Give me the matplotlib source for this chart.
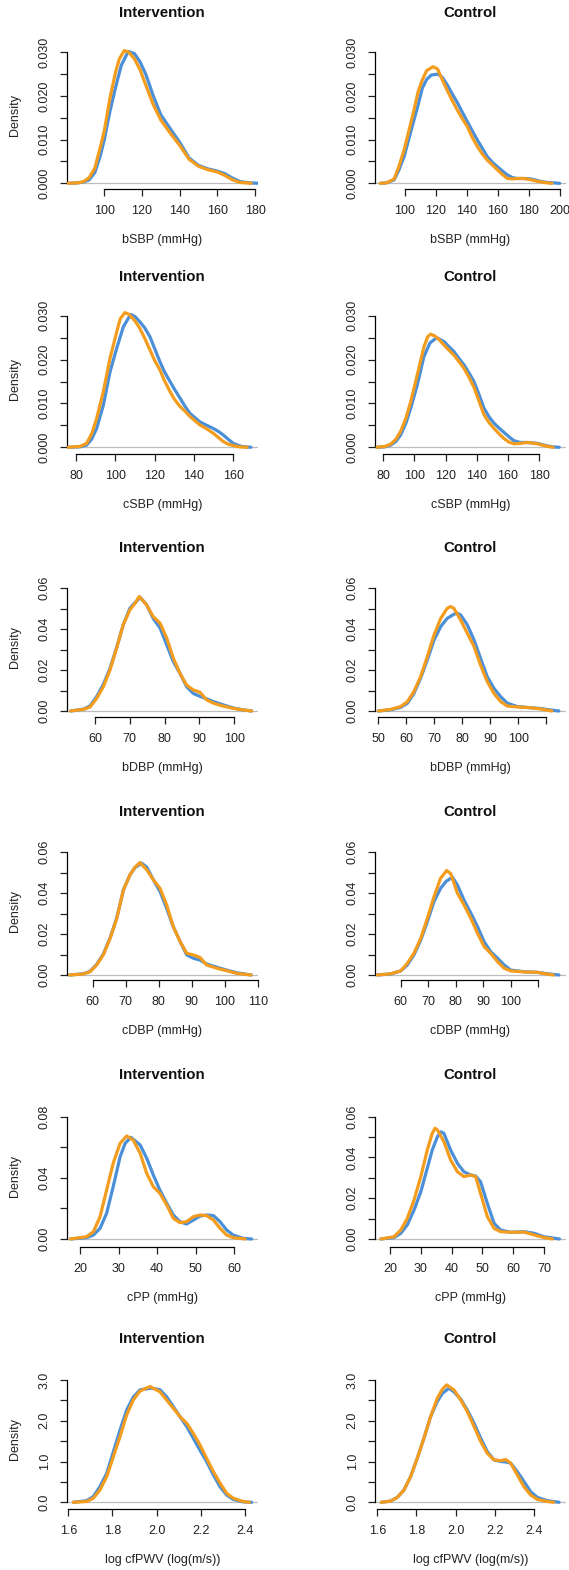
import matplotlib
matplotlib.use("Agg")
import matplotlib.pyplot as plt

plt.rcParams['font.family'] = ['Liberation Sans', 'DejaVu Sans']

BLUE, ORANGE = '#4a8fd8', '#f39c1e'

# ---- density curves (x, density) ----
bsbp_i_b_x = [81, 86, 89, 92, 95, 98, 100, 103, 106, 109, 112.7, 116, 119, 122, 126, 130, 135, 140,
              145, 150, 155, 160, 164, 168, 172, 177, 182]
bsbp_i_b_y = [0, 0.0001, 0.0003, 0.0008, 0.0025, 0.0065, 0.010, 0.0165, 0.022, 0.027, 0.0302, 0.0297,
              0.0278, 0.025, 0.020, 0.0157, 0.0125, 0.0094, 0.0058, 0.0041, 0.0033, 0.0028, 0.0022,
              0.0012, 0.0004, 0.0001, 0]
bsbp_i_o_x = [80, 86, 89, 92, 95, 98, 100, 103, 106, 108, 110.6, 113, 116, 119, 122, 126, 130, 135,
              140, 145, 150, 155, 160, 164, 168, 172, 178]
bsbp_i_o_y = [0, 0.0001, 0.0004, 0.0013, 0.0035, 0.0085, 0.012, 0.0195, 0.0255, 0.0285, 0.0304, 0.030,
              0.0285, 0.026, 0.0225, 0.018, 0.0145, 0.0115, 0.0087, 0.0055, 0.0039, 0.0031, 0.0026,
              0.0018, 0.0008, 0.0002, 0]
bsbp_c_b_x = [84, 88, 93, 96, 99.4, 102.5, 105.8, 108.5, 111.2, 114, 117, 121.3, 124, 127.4, 130.5,
              133.8, 137, 140.3, 143.5, 146.8, 150, 153.2, 156.5, 159.7, 163, 166.2, 169.5, 172.6,
              177, 181.3, 185, 188, 192, 196, 200]
bsbp_c_b_y = [0, 0.0001, 0.0008, 0.003, 0.0061, 0.0102, 0.0145, 0.018, 0.0218, 0.0238, 0.0248, 0.025,
              0.0243, 0.0225, 0.0205, 0.0185, 0.0163, 0.0141, 0.012, 0.0099, 0.008, 0.0061, 0.0048,
              0.0038, 0.0028, 0.0019, 0.0013, 0.0011, 0.0011, 0.0010, 0.0007, 0.0004, 0.0002,
              0.0001, 0]
bsbp_c_o_x = [84, 88, 93, 96, 99.4, 102.5, 105.8, 108.5, 111.2, 114, 118.1, 121, 124, 127.4, 130.5,
              133.8, 137, 140.3, 143.5, 146.8, 150, 153.2, 156.5, 159.7, 163, 166.2, 169.5, 172.6,
              177, 181.3, 185, 188, 192, 195]
bsbp_c_o_y = [0, 0.0001, 0.001, 0.0038, 0.0076, 0.012, 0.0168, 0.021, 0.0237, 0.0258, 0.0267, 0.0262,
              0.0238, 0.0212, 0.019, 0.0168, 0.0148, 0.013, 0.0105, 0.0084, 0.0067, 0.0053, 0.0042,
              0.0031, 0.002, 0.0011, 0.001, 0.0011, 0.0011, 0.0008, 0.0005, 0.0003, 0.0001, 0]

csbp_i_b_x = [76, 82, 85.4, 88, 90.5, 93.9, 97.3, 100.7, 104.1, 107.8, 110, 112.5, 115, 117.6, 120,
              122.7, 125, 127.8, 130, 132.9, 135.5, 138, 143, 146.5, 149.8, 152.5, 154.9, 157.5,
              160, 164, 169]
csbp_i_b_y = [0, 0.0001, 0.0005, 0.0019, 0.0043, 0.0096, 0.0172, 0.0226, 0.0275, 0.0303, 0.0298,
              0.0286, 0.0272, 0.0252, 0.0225, 0.0195, 0.0172, 0.015, 0.0133, 0.0112, 0.0093, 0.0077,
              0.0058, 0.005, 0.0043, 0.0036, 0.0028, 0.0018, 0.0009, 0.0002, 0]
csbp_i_o_x = [76, 82, 85.4, 88, 90.5, 93.9, 97.3, 100.7, 102.5, 104.9, 107, 110, 112.5, 115, 117.6,
              120, 122.7, 125, 127.8, 130, 132.9, 135.5, 138, 143, 146.5, 149.8, 152.5, 154.9,
              157.5, 160, 163, 167]
csbp_i_o_y = [0, 0.0002, 0.0009, 0.0031, 0.0066, 0.0127, 0.0203, 0.0263, 0.0293, 0.0307, 0.0303,
              0.0288, 0.0271, 0.0248, 0.0222, 0.0198, 0.0176, 0.0152, 0.0127, 0.011, 0.0093, 0.0082,
              0.007, 0.0051, 0.0042, 0.0032, 0.0022, 0.0013, 0.0007, 0.0004, 0.0001, 0]
csbp_c_b_x = [76, 81, 84.7, 88, 91.1, 94.5, 97.6, 101.8, 106.1, 110, 114.3, 119, 122, 125.4, 128.5,
              131.8, 135, 138.2, 141.5, 144.7, 148, 151.1, 154.3, 157.5, 160.7, 163.9, 168, 172.5,
              178.9, 185.4, 189, 193]
csbp_c_b_y = [0, 0.0001, 0.0005, 0.0013, 0.0028, 0.0055, 0.0089, 0.0142, 0.0207, 0.0238, 0.025,
              0.0241, 0.023, 0.0218, 0.0203, 0.0188, 0.017, 0.015, 0.012, 0.0089, 0.0069, 0.0055,
              0.0044, 0.0034, 0.0024, 0.0015, 0.0011, 0.0011, 0.0009, 0.0003, 0.0001, 0]
csbp_c_o_x = [76, 81, 84.7, 88, 91.1, 94.5, 97.6, 101.8, 106.1, 108.5, 110.4, 113, 116, 119, 122,
              125.4, 128.5, 131.8, 135, 138.2, 141.5, 144.7, 148, 151.1, 154.3, 157.5, 160.7, 163.9,
              168, 172.5, 178.9, 185.4, 189]
csbp_c_o_y = [0, 0.0002, 0.0007, 0.0018, 0.0036, 0.0066, 0.0104, 0.0165, 0.0229, 0.0252, 0.0258,
              0.0254, 0.0245, 0.0233, 0.0222, 0.021, 0.0196, 0.018, 0.016, 0.0137, 0.0105, 0.0074,
              0.0056, 0.0043, 0.0031, 0.002, 0.0012, 0.0008, 0.0009, 0.0011, 0.0008, 0.0002, 0]

bdbp_i_b_x = [53, 56.7, 58.6, 60.5, 62.4, 64.3, 66.2, 68.1, 70, 71.5, 73, 74.8, 76.7, 78.7, 80.6,
              82.5, 84.4, 86.3, 88.2, 90.1, 92.1, 94, 96.8, 99.7, 102.6, 105]
bdbp_i_b_y = [0, 0.0009, 0.0025, 0.0071, 0.013, 0.0208, 0.031, 0.0421, 0.0502, 0.053, 0.0555, 0.052,
              0.0453, 0.0405, 0.0323, 0.0241, 0.0184, 0.0119, 0.0086, 0.0072, 0.0059, 0.0046, 0.003,
              0.0015, 0.0005, 0]
bdbp_i_o_x = [53, 56.7, 58.6, 60.5, 62.4, 64.3, 66.2, 68.1, 70, 71.5, 72.7, 74.8, 76.7, 78.7, 80.6,
              82.5, 84.4, 86.3, 88.2, 90.1, 92.1, 94, 96.8, 99.7, 102.6, 105]
bdbp_i_o_y = [0, 0.0008, 0.002, 0.0062, 0.0119, 0.02, 0.0307, 0.0421, 0.0494, 0.0527, 0.056, 0.0519,
              0.0462, 0.0429, 0.0356, 0.0258, 0.0184, 0.0127, 0.0103, 0.0092, 0.0054, 0.0038, 0.0024,
              0.0013, 0.0005, 0]
bdbp_c_b_x = [50, 54.4, 58, 60.4, 62.7, 65.1, 67.5, 69.9, 72.3, 74.6, 77, 78.2, 79.4, 81.8, 84.2,
              86.5, 88.9, 91.3, 93.7, 96.1, 99.6, 104.4, 108, 111.5, 114.5]
bdbp_c_b_y = [0, 0.0006, 0.0018, 0.0038, 0.0086, 0.016, 0.025, 0.0347, 0.0413, 0.0453, 0.0473,
              0.0478, 0.047, 0.0421, 0.0347, 0.0258, 0.0168, 0.0111, 0.007, 0.0038, 0.0022, 0.0016,
              0.0012, 0.0005, 0]
bdbp_c_o_x = [50, 54.4, 58, 60.4, 62.7, 65.1, 67.5, 69.9, 72.3, 74.6, 75.8, 77, 79.4, 81.8, 84.2,
              86.5, 88.9, 91.3, 93.7, 96.1, 99.6, 104.4, 108, 112]
bdbp_c_o_y = [0, 0.0008, 0.0022, 0.0046, 0.0095, 0.0168, 0.0266, 0.0372, 0.0453, 0.0502, 0.0511,
              0.0502, 0.0445, 0.038, 0.0315, 0.0225, 0.0144, 0.0086, 0.0046, 0.0024, 0.002, 0.0016,
              0.001, 0]

cdbp_i_b_x = [53, 57.2, 59.2, 61.2, 63.2, 65.3, 67.3, 69.3, 71.3, 72.8, 74.8, 76.4, 78.4, 80.4, 82.4,
              84.4, 86.5, 88.5, 90.5, 92.5, 94.5, 97.6, 100.6, 103.6, 108]
cdbp_i_b_y = [0, 0.0006, 0.0018, 0.0052, 0.0102, 0.0183, 0.028, 0.0416, 0.049, 0.0525, 0.0547,
              0.0527, 0.0465, 0.0408, 0.0326, 0.0237, 0.0163, 0.0098, 0.0082, 0.0073, 0.0054, 0.0038,
              0.0024, 0.0011, 0]
cdbp_i_o_x = [53, 57.2, 59.2, 61.2, 63.2, 65.3, 67.3, 69.3, 71.3, 72.8, 74.3, 76.4, 78.4, 80.4, 82.4,
              84.4, 86.5, 88.5, 90.5, 92.5, 94.5, 97.6, 100.6, 103.6, 108]
cdbp_i_o_y = [0, 0.0005, 0.0016, 0.0049, 0.0098, 0.018, 0.0277, 0.0416, 0.049, 0.0527, 0.055, 0.0514,
              0.0465, 0.0424, 0.0343, 0.0237, 0.0163, 0.0106, 0.0098, 0.0086, 0.0049, 0.0033, 0.0021,
              0.0008, 0]
cdbp_c_b_x = [51.5, 56.4, 60, 62.4, 64.8, 67.3, 69.7, 72.1, 74.5, 76.5, 78.8, 80.6, 83, 85.5, 87.9,
              90.3, 92.7, 95.2, 97.6, 100, 104.8, 109.7, 113.3, 117.5]
cdbp_c_b_y = [0, 0.0005, 0.002, 0.0049, 0.0098, 0.0171, 0.0261, 0.0359, 0.0424, 0.0458, 0.0478,
              0.044, 0.0367, 0.0302, 0.0237, 0.0163, 0.0114, 0.0082, 0.0049, 0.0024, 0.0016, 0.0013,
              0.0006, 0]
cdbp_c_o_x = [51.5, 56.4, 60, 62.4, 64.8, 67.3, 69.7, 72.1, 74.5, 76.7, 78.2, 80.6, 83, 85.5, 87.9,
              90.3, 92.7, 95.2, 97.6, 100, 104.8, 109.7, 113.3, 115.5]
cdbp_c_o_y = [0, 0.0006, 0.002, 0.0057, 0.0106, 0.018, 0.0277, 0.0383, 0.0473, 0.0511, 0.0495, 0.04,
              0.0343, 0.0277, 0.0204, 0.0139, 0.0106, 0.0065, 0.0033, 0.002, 0.0015, 0.0013, 0.0004, 0]

cpp_i_b_x = [17.5, 21.7, 23.5, 25.2, 26.9, 28.6, 30.4, 31.7, 33.2, 35.6, 37.3, 39, 40.7, 42.5, 44.2,
             45.9, 47.6, 49.4, 51.1, 52.8, 54.6, 56.3, 58, 59.7, 62.3, 64.5]
cpp_i_b_y = [0, 0.0009, 0.0026, 0.007, 0.0168, 0.0342, 0.0538, 0.0626, 0.0665, 0.0615, 0.0528,
             0.0419, 0.032, 0.0233, 0.0157, 0.0113, 0.0098, 0.0124, 0.015, 0.0157, 0.0153, 0.0113,
             0.0059, 0.0026, 0.0004, 0]
cpp_i_o_x = [17.5, 21.7, 23.5, 25.2, 26.9, 28.6, 30.4, 32.1, 33.8, 35.6, 37.3, 39, 40.7, 42.5, 44.2,
             45.9, 47.6, 49.4, 51.1, 52.8, 54.6, 56.3, 58, 59.7, 62.8]
cpp_i_o_y = [0, 0.0015, 0.0048, 0.0146, 0.032, 0.0495, 0.0626, 0.0674, 0.0647, 0.056, 0.0429,
             0.0342, 0.0299, 0.0222, 0.0135, 0.0107, 0.0113, 0.0146, 0.0157, 0.0153, 0.0124, 0.007,
             0.0026, 0.0009, 0]
cpp_c_b_x = [17, 21.3, 23.5, 25.6, 27.8, 30, 32.1, 33.7, 35.4, 36.5, 37.5, 39.7, 41.9, 44, 46.2,
             47.8, 49.4, 51.6, 53.8, 55.9, 59.2, 63.5, 66.8, 70, 75]
cpp_c_b_y = [0, 0.0007, 0.0028, 0.0069, 0.0142, 0.0232, 0.0347, 0.0436, 0.0502, 0.0526, 0.0518,
             0.0436, 0.0371, 0.033, 0.0314, 0.0309, 0.0281, 0.0175, 0.0077, 0.0044, 0.0033, 0.0036,
             0.0028, 0.0011, 0]
cpp_c_o_x = [17, 21.3, 23.5, 25.6, 27.8, 30, 32.1, 33.7, 34.6, 35.4, 37.5, 39.7, 41.9, 44, 46.2,
             47.8, 49.4, 51.6, 53.8, 55.9, 59.2, 63.5, 66.8, 70, 72.7]
cpp_c_o_y = [0, 0.0011, 0.0044, 0.0101, 0.0191, 0.0306, 0.0436, 0.0518, 0.0543, 0.0535, 0.0477,
             0.0387, 0.033, 0.0306, 0.0314, 0.0306, 0.0224, 0.011, 0.0052, 0.0036, 0.0033, 0.0034,
             0.002, 0.0007, 0]

pwv_i_b_x = [1.623, 1.683, 1.713, 1.743, 1.774, 1.804, 1.834, 1.864, 1.894, 1.925, 1.977, 2.015,
             2.045, 2.075, 2.106, 2.136, 2.166, 2.196, 2.226, 2.257, 2.287, 2.317, 2.347, 2.392, 2.43]
pwv_i_b_y = [0, 0.04, 0.14, 0.38, 0.71, 1.24, 1.77, 2.26, 2.58, 2.76, 2.80, 2.76, 2.59, 2.35, 2.10,
             1.86, 1.57, 1.28, 1.0, 0.67, 0.38, 0.18, 0.07, 0.01, 0]
pwv_i_o_x = [1.623, 1.683, 1.713, 1.743, 1.774, 1.804, 1.834, 1.864, 1.894, 1.925, 1.97, 2.015,
             2.045, 2.075, 2.106, 2.136, 2.166, 2.196, 2.226, 2.257, 2.287, 2.317, 2.347, 2.392, 2.42]
pwv_i_o_y = [0, 0.02, 0.10, 0.30, 0.63, 1.12, 1.61, 2.14, 2.51, 2.73, 2.84, 2.71, 2.51, 2.31, 2.10,
             1.94, 1.69, 1.41, 1.08, 0.75, 0.47, 0.22, 0.10, 0.02, 0]
pwv_c_b_x = [1.62, 1.668, 1.702, 1.736, 1.770, 1.804, 1.838, 1.872, 1.906, 1.932, 1.966, 1.991,
             2.026, 2.06, 2.094, 2.128, 2.162, 2.196, 2.23, 2.255, 2.281, 2.315, 2.349, 2.383,
             2.417, 2.468, 2.528]
pwv_c_b_y = [0, 0.03, 0.12, 0.30, 0.63, 1.08, 1.57, 2.10, 2.47, 2.67, 2.80, 2.71, 2.53, 2.26, 1.94,
             1.57, 1.24, 1.04, 1.0, 0.99, 0.96, 0.75, 0.51, 0.26, 0.12, 0.04, 0]
pwv_c_o_x = [1.62, 1.668, 1.702, 1.736, 1.770, 1.804, 1.838, 1.872, 1.906, 1.932, 1.954, 1.991,
             2.026, 2.06, 2.094, 2.128, 2.162, 2.196, 2.23, 2.255, 2.281, 2.315, 2.349, 2.383,
             2.417, 2.468, 2.50]
pwv_c_o_y = [0, 0.03, 0.12, 0.30, 0.63, 1.08, 1.57, 2.10, 2.55, 2.77, 2.88, 2.76, 2.51, 2.22, 1.86,
             1.49, 1.20, 1.04, 1.02, 1.05, 0.96, 0.67, 0.38, 0.18, 0.07, 0.02, 0]

# ---- axis text ----
xlabels = ['bSBP (mmHg)', 'cSBP (mmHg)', 'bDBP (mmHg)', 'cDBP (mmHg)', 'cPP (mmHg)',
           'log cfPWV (log(m/s))']
xticks = [([100, 120, 140, 160, 180], [100, 120, 140, 160, 180, 200]),
          ([80, 100, 120, 140, 160], [80, 100, 120, 140, 160, 180]),
          ([60, 70, 80, 90, 100], [50, 60, 70, 80, 90, 100, 110]),
          ([60, 70, 80, 90, 100, 110], [60, 70, 80, 90, 100, 110]),
          ([20, 30, 40, 50, 60], [20, 30, 40, 50, 60, 70]),
          ([1.6, 1.8, 2.0, 2.2, 2.4], [1.6, 1.8, 2.0, 2.2, 2.4])]
xtick_hidden = [([], []), ([], []), ([], [110]), ([], [110]), ([], []), ([], [])]
# (labelled y ticks, tick step, label format)
yaxes = [(([0, .01, .02, .03], .005, '%.3f'), ([0, .01, .02, .03], .005, '%.3f')),
         (([0, .01, .02, .03], .005, '%.3f'), ([0, .01, .02, .03], .005, '%.3f')),
         (([0, .02, .04, .06], .01, '%.2f'), ([0, .02, .04, .06], .01, '%.2f')),
         (([0, .02, .04, .06], .01, '%.2f'), ([0, .02, .04, .06], .01, '%.2f')),
         (([0, .04, .08], .02, '%.2f'), ([0, .02, .04, .06], .01, '%.2f')),
         (([0, 1, 2, 3], .5, '%.1f'), ([0, 1, 2, 3], .5, '%.1f'))]

curves = [((bsbp_i_b_x, bsbp_i_b_y, bsbp_i_o_x, bsbp_i_o_y), (bsbp_c_b_x, bsbp_c_b_y, bsbp_c_o_x, bsbp_c_o_y)),
          ((csbp_i_b_x, csbp_i_b_y, csbp_i_o_x, csbp_i_o_y), (csbp_c_b_x, csbp_c_b_y, csbp_c_o_x, csbp_c_o_y)),
          ((bdbp_i_b_x, bdbp_i_b_y, bdbp_i_o_x, bdbp_i_o_y), (bdbp_c_b_x, bdbp_c_b_y, bdbp_c_o_x, bdbp_c_o_y)),
          ((cdbp_i_b_x, cdbp_i_b_y, cdbp_i_o_x, cdbp_i_o_y), (cdbp_c_b_x, cdbp_c_b_y, cdbp_c_o_x, cdbp_c_o_y)),
          ((cpp_i_b_x, cpp_i_b_y, cpp_i_o_x, cpp_i_o_y), (cpp_c_b_x, cpp_c_b_y, cpp_c_o_x, cpp_c_o_y)),
          ((pwv_i_b_x, pwv_i_b_y, pwv_i_o_x, pwv_i_o_y), (pwv_c_b_x, pwv_c_b_y, pwv_c_o_x, pwv_c_o_y))]

# ---- layout in pixels (measured on the reference) ----
W, H = 569, 1570
col_left, col_right = [66.7, 374.7], [257.7, 565.7]
# per row: x-axis line, zero line, top tick, title y
row_px = [(189, 183.3, 52.3, 13), (454, 447.3, 315.7, 276.7), (716.7, 711, 588.3, 548.3),
          (980, 975, 852.3, 812.3), (1246.7, 1239, 1116.7, 1075), (1509, 1502.3, 1380, 1339)]
# per row/col: pixel x of first and last x tick
xtick_px = [((104.3, 255), (405, 559.7)), ((76, 233.3), (383.3, 539)), ((95, 234.3), (378.3, 546.3)),
            ((92.7, 257.7), (400.7, 538.3)), ((80, 234.3), (390, 544)), ((68.3, 245), (377.3, 534))]

fig = plt.figure(figsize=(W / 100, H / 100), dpi=100)

for r in range(6):
    B, Z, T, ty = row_px[r]
    A = T - 11
    for c in range(2):
        Lx, Rx = col_left[c], col_right[c]
        ax = fig.add_axes([Lx / W, 1 - B / H, (Rx - Lx) / W, (B - A) / H])
        ticks = xticks[r][c]
        pa, pb = xtick_px[r][c]
        xa, xb = ticks[0], ticks[-1]
        sx = (pb - pa) / (xb - xa)
        ax.set_xlim(xa - (pa - Lx) / sx, xb + (Rx - pb) / sx)
        ylab, ystep, yfmt = yaxes[r][c]
        V = ylab[-1]
        sy = (Z - T) / V
        ax.set_ylim(-(B - Z) / sy, V + (T - A) / sy)

        ax.axhline(0, color='#bebebe', lw=0.9, zorder=1)
        bx, by, ox, oy = curves[r][c]
        ax.plot(bx, by, color=BLUE, lw=2.3, solid_capstyle='round', solid_joinstyle='round', zorder=2)
        ax.plot(ox, oy, color=ORANGE, lw=2.3, solid_capstyle='round', solid_joinstyle='round', zorder=3)

        for s in ['top', 'right']:
            ax.spines[s].set_visible(False)
        ax.spines['bottom'].set_bounds(xa, xb)
        ax.spines['left'].set_bounds(0, V)
        for s in ['bottom', 'left']:
            ax.spines[s].set_linewidth(0.9)

        hidden = xtick_hidden[r][c]
        ax.set_xticks(ticks)
        ax.set_xticklabels(['' if t in hidden else ('%g' % t if t >= 10 else '%.1f' % t) for t in ticks])
        ax.set_yticks(ylab)
        ax.set_yticklabels([yfmt % v for v in ylab])
        nminor = int(round(V / ystep))
        ax.set_yticks([k * ystep for k in range(nminor + 1)], minor=True)
        ax.tick_params(axis='both', which='both', direction='out', length=5, width=0.9,
                       labelsize=9, pad=6.5, color='#222222', labelcolor='#222222')
        for lab in ax.get_yticklabels():
            lab.set_rotation(90)
            lab.set_va('center')
        ax.patch.set_visible(False)

        cx = (Lx + Rx) / 2
        fig.text(cx / W, 1 - ty / H, 'Intervention' if c == 0 else 'Control', ha='center',
                 va='center', fontsize=10.8, fontweight='bold', color='#111111')
        fig.text(cx / W, 1 - (B + 51) / H, xlabels[r], ha='center', va='center', fontsize=9,
                 color='#222222')
        if c == 0:
            fig.text(15 / W, 1 - (A + B) / 2 / H, 'Density', ha='center', va='center',
                     rotation=90, fontsize=9, color='#222222')

fig.savefig('out.png', dpi=100)
